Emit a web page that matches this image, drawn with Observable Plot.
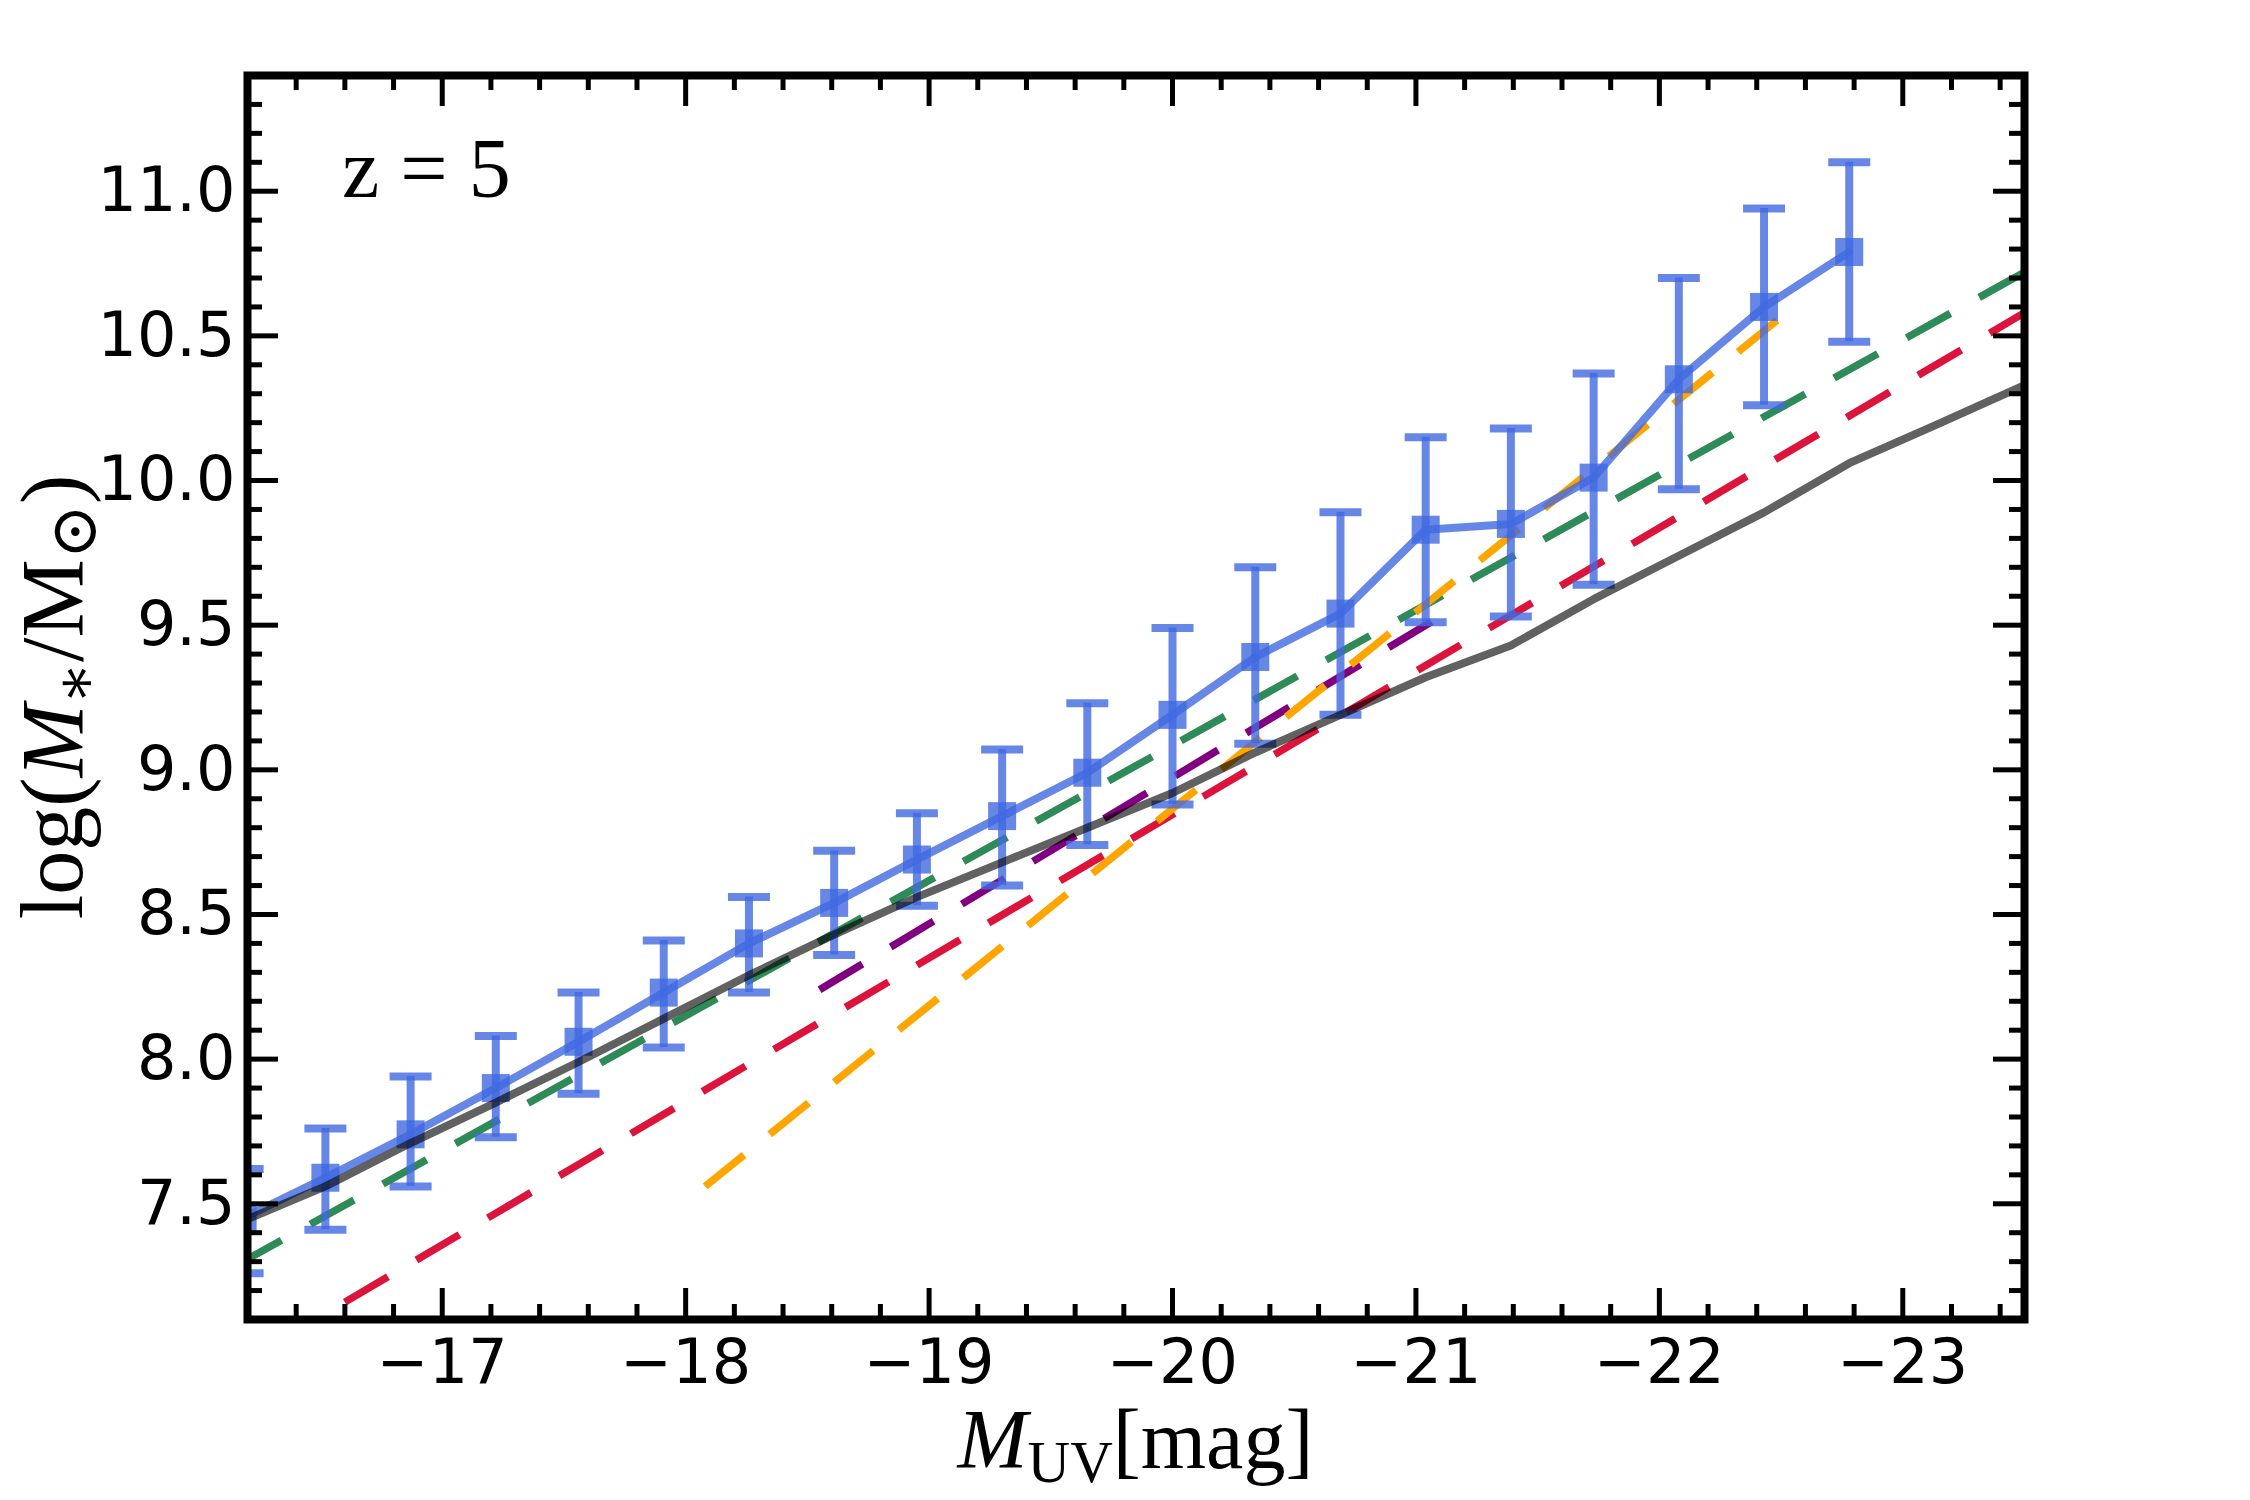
<!DOCTYPE html>
<html>
<head>
<meta charset="utf-8">
<script src="https://cdn.jsdelivr.net/npm/d3@7"></script>
<script src="https://cdn.jsdelivr.net/npm/@observablehq/plot@0.6"></script>
<style>
  html, body { margin: 0; padding: 0; background: #ffffff; }
  #chart { width: 2250px; height: 1500px; }
</style>
</head>
<body>
<div id="chart"></div>
<script>
// ---- Data ----
// Binned points (blue squares with error bars)
const muv      = [-16.18, -16.52, -16.87, -17.22, -17.56, -17.91, -18.26, -18.61, -18.95, -19.30,
                  -19.65, -20.00, -20.34, -20.69, -21.04, -21.39, -21.73, -22.08, -22.43, -22.78];
const logMstar = [7.45, 7.59, 7.74, 7.90, 8.06, 8.23, 8.40, 8.54, 8.69, 8.84,
                  8.99, 9.19, 9.39, 9.54, 9.83, 9.85, 10.01, 10.35, 10.60, 10.79];
const errLow   = [7.26, 7.41, 7.56, 7.73, 7.88, 8.04, 8.23, 8.36, 8.53, 8.60,
                  8.74, 8.88, 9.09, 9.19, 9.51, 9.53, 9.64, 9.97, 10.26, 10.48];
const errHigh  = [7.62, 7.76, 7.94, 8.08, 8.23, 8.41, 8.56, 8.72, 8.85, 9.07,
                  9.23, 9.49, 9.70, 9.89, 10.15, 10.18, 10.37, 10.70, 10.94, 11.10];

// Grey solid relation
const grayMuv  = [-16.18, -16.52, -16.87, -17.22, -17.56, -17.91, -18.26, -18.61, -18.95, -19.30, -19.65,
                  -20.00, -20.34, -20.69, -21.04, -21.39, -21.73, -22.08, -22.43, -22.78, -23.13, -23.50];
const grayLogM = [7.44, 7.56, 7.71, 7.85, 7.99, 8.14, 8.29, 8.43, 8.56, 8.68, 8.80,
                  8.92, 9.06, 9.19, 9.32, 9.43, 9.59, 9.74, 9.89, 10.06, 10.19, 10.33];

// Dashed literature relations (end points)
const greenMuv  = [-16.16, -23.50]; const greenLogM  = [7.29, 10.72];
const redMuv    = [-16.60, -23.50]; const redLogM    = [7.16, 10.58];
const purpleMuv = [-18.55, -21.08]; const purpleLogM = [8.24, 9.52];
const orangeMuv = [-18.08, -22.50]; const orangeLogM = [7.56, 10.565];

// Ticks
const xTicksMajor = [-17, -18, -19, -20, -21, -22, -23];
const xTicksMinor = [-16.4, -16.6, -16.8, -17.2, -17.4, -17.6, -17.8, -18.2, -18.4, -18.6, -18.8,
                     -19.2, -19.4, -19.6, -19.8, -20.2, -20.4, -20.6, -20.8, -21.2, -21.4, -21.6, -21.8,
                     -22.2, -22.4, -22.6, -22.8, -23.2, -23.4];
const yTicksMajor = [7.5, 8.0, 8.5, 9.0, 9.5, 10.0, 10.5, 11.0];
const yTicksMinor = [7.2, 7.3, 7.4, 7.6, 7.7, 7.8, 7.9, 8.1, 8.2, 8.3, 8.4, 8.6, 8.7, 8.8, 8.9,
                     9.1, 9.2, 9.3, 9.4, 9.6, 9.7, 9.8, 9.9, 10.1, 10.2, 10.3, 10.4, 10.6, 10.7, 10.8, 10.9,
                     11.1, 11.2, 11.3];

// ---- Build tables ----
const binned = muv.map((m, i) => ({muv: m, logM: logMstar[i], lo: errLow[i], hi: errHigh[i]}));
const gray   = grayMuv.map((m, i) => ({muv: m, logM: grayLogM[i]}));
const pairs  = (xs, ys) => xs.map((m, i) => ({muv: m, logM: ys[i]}));

// ---- Layout ----
const W = 2250, H = 1500;
const mL = 247, mR = 226, mT = 75, mB = 181;
const plotW = W - mL - mR, plotH = H - mT - mB;
const majorLen = 31, minorLen = 15, tickW = 5;

const capSymbol = {
  draw(ctx, size) { const r = Math.sqrt(size / Math.PI); ctx.moveTo(-r, 0); ctx.lineTo(r, 0); }
};

const blue = "royalblue";
const dash = "50,33";
const dashW = 7.5;

const chart = Plot.plot({
  width: W, height: H,
  marginLeft: mL, marginRight: mR, marginTop: mT, marginBottom: mB,
  style: {background: "white", fontFamily: "'DejaVu Sans', sans-serif", color: "black"},
  x: {domain: [-16.2, -23.5]},
  y: {domain: [7.1, 11.4]},
  marks: [
    // dashed relations
    Plot.line(pairs(redMuv, redLogM), {x: "muv", y: "logM", stroke: "crimson", strokeWidth: dashW, strokeDasharray: dash, strokeLinecap: "butt", clip: true}),
    Plot.line(pairs(greenMuv, greenLogM), {x: "muv", y: "logM", stroke: "seagreen", strokeWidth: dashW, strokeDasharray: dash, strokeLinecap: "butt", clip: true}),
    Plot.line(pairs(purpleMuv, purpleLogM), {x: "muv", y: "logM", stroke: "purple", strokeWidth: dashW, strokeDasharray: dash, strokeLinecap: "butt", clip: true}),
    Plot.line(pairs(orangeMuv, orangeLogM), {x: "muv", y: "logM", stroke: "orange", strokeWidth: dashW, strokeDasharray: dash, strokeLinecap: "butt", clip: true}),
    // binned data
    Plot.line(binned, {x: "muv", y: "logM", stroke: blue, strokeWidth: 8, strokeOpacity: 0.8, clip: true}),
    Plot.ruleX(binned, {x: "muv", y1: "lo", y2: "hi", stroke: blue, strokeWidth: 8, strokeOpacity: 0.8, clip: true}),
    Plot.dot(binned, {x: "muv", y: "lo", symbol: capSymbol, r: 21, stroke: blue, strokeWidth: 8, strokeOpacity: 0.8, fill: "none", clip: true}),
    Plot.dot(binned, {x: "muv", y: "hi", symbol: capSymbol, r: 21, stroke: blue, strokeWidth: 8, strokeOpacity: 0.8, fill: "none", clip: true}),
    Plot.dot(binned, {x: "muv", y: "logM", symbol: "square", r: 15.8, fill: blue, fillOpacity: 0.8, stroke: "none", clip: true}),
    // grey relation on top
    Plot.line(gray, {x: "muv", y: "logM", stroke: "black", strokeOpacity: 0.62, strokeWidth: 8, clip: true}),
    // inward ticks on all four sides
    Plot.tickX(xTicksMajor, {x: d => d, insetTop: plotH - majorLen, stroke: "black", strokeWidth: tickW}),
    Plot.tickX(xTicksMinor, {x: d => d, insetTop: plotH - minorLen, stroke: "black", strokeWidth: tickW}),
    Plot.tickX(xTicksMajor, {x: d => d, insetBottom: plotH - majorLen, stroke: "black", strokeWidth: tickW}),
    Plot.tickX(xTicksMinor, {x: d => d, insetBottom: plotH - minorLen, stroke: "black", strokeWidth: tickW}),
    Plot.tickY(yTicksMajor, {y: d => d, insetRight: plotW - majorLen, stroke: "black", strokeWidth: tickW}),
    Plot.tickY(yTicksMinor, {y: d => d, insetRight: plotW - minorLen, stroke: "black", strokeWidth: tickW}),
    Plot.tickY(yTicksMajor, {y: d => d, insetLeft: plotW - majorLen, stroke: "black", strokeWidth: tickW}),
    Plot.tickY(yTicksMinor, {y: d => d, insetLeft: plotW - minorLen, stroke: "black", strokeWidth: tickW}),
    // tick labels
    Plot.axisX(xTicksMajor, {anchor: "bottom", tickSize: 0, tickPadding: 19, fontSize: 62, label: null, tickFormat: d3.format("d")}),
    Plot.axisY(yTicksMajor, {anchor: "left", tickSize: 0, tickPadding: 12, fontSize: 62, label: null, tickFormat: d3.format(".1f")}),
    Plot.frame({stroke: "black", strokeWidth: 8})
  ]
});

document.getElementById("chart").appendChild(chart);

// ---- Math-style labels ----
const svg = d3.select(chart);
const serif = "'Liberation Serif', 'DejaVu Serif', serif";

// panel annotation
svg.append("text")
  .attr("x", mL + 95).attr("y", 197)
  .attr("text-anchor", "start")
  .attr("font-family", serif).attr("font-size", 84).attr("fill", "black")
  .attr("xml:space", "preserve")
  .text("z = 5");

// x label
const xlab = svg.append("text")
  .attr("x", mL + plotW / 2).attr("y", 1468)
  .attr("text-anchor", "middle")
  .attr("font-family", serif).attr("font-size", 84).attr("fill", "black");
xlab.append("tspan").attr("font-style", "italic").text("M");
xlab.append("tspan").attr("font-size", 59).attr("dy", 14).text("UV");
xlab.append("tspan").attr("dy", -14).text("[mag]");

// y label
const ylab = svg.append("text")
  .attr("transform", `translate(82,${mT + plotH / 2}) rotate(-90)`)
  .attr("text-anchor", "middle")
  .attr("font-family", serif).attr("font-size", 88).attr("fill", "black");
ylab.append("tspan").text("log(");
ylab.append("tspan").attr("font-style", "italic").text("M");
ylab.append("tspan").attr("font-size", 62).attr("dy", 14).text("∗");
ylab.append("tspan").attr("dy", -14).text("/M");
ylab.append("tspan").attr("font-size", 66).attr("dy", 14).text("⊙");
ylab.append("tspan").attr("dy", -14).text(")");
</script>
</body>
</html>
